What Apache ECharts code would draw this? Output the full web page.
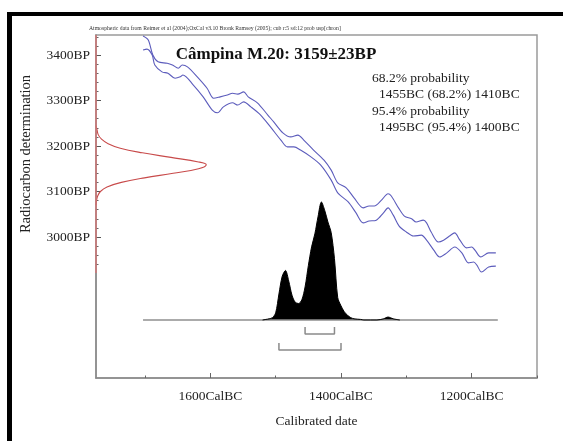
<!DOCTYPE html>
<html>
<head>
<meta charset="utf-8">
<script src="https://cdn.jsdelivr.net/npm/echarts@6/dist/echarts.min.js"></script>
<style>
  html, body { margin: 0; padding: 0; background: #fff; }
  #chart { width: 563px; height: 441px; }
</style>
</head>
<body>
<div id="chart"></div>
<script>
// calibration curve (cal BC, BP) - upper and lower 1 sigma lines
const curveUpper = [
  [1703, 3442], [1695, 3433], [1688, 3400], [1680, 3385], [1666, 3382], [1658, 3378],
  [1649, 3371], [1643, 3378], [1635, 3374], [1620, 3352], [1605, 3327], [1595, 3305],
  [1585, 3308], [1574, 3312], [1566, 3316], [1558, 3314], [1549, 3319], [1542, 3308],
  [1528, 3295], [1512, 3268], [1503, 3253], [1489, 3229], [1477, 3220], [1466, 3224],
  [1457, 3213], [1442, 3191], [1426, 3169], [1415, 3147], [1405, 3119], [1392, 3108],
  [1380, 3086], [1366, 3064], [1357, 3068], [1349, 3068], [1338, 3081], [1328, 3095],
  [1323, 3090], [1312, 3064], [1303, 3046], [1292, 3040], [1285, 3033], [1274, 3037],
  [1269, 3031], [1262, 3011], [1251, 2989], [1243, 2993], [1234, 3002], [1226, 3009],
  [1218, 2993], [1208, 2976], [1200, 2978], [1195, 2971], [1186, 2956], [1174, 2965],
  [1163, 2965]
];
const curveLower = [
  [1703, 3411], [1697, 3413], [1689, 3400], [1685, 3378], [1674, 3363], [1665, 3360],
  [1654, 3349], [1646, 3352], [1642, 3356], [1626, 3334], [1611, 3308], [1597, 3279],
  [1589, 3273], [1580, 3286], [1566, 3295], [1558, 3290], [1549, 3297], [1538, 3286],
  [1523, 3268], [1508, 3242], [1492, 3213], [1482, 3198], [1472, 3198], [1462, 3191],
  [1446, 3176], [1431, 3158], [1415, 3125], [1405, 3097], [1389, 3077], [1377, 3053],
  [1366, 3031], [1357, 3035], [1346, 3037], [1335, 3053], [1328, 3064], [1320, 3048],
  [1311, 3024], [1300, 3011], [1289, 3002], [1277, 3004], [1269, 2993], [1258, 2971],
  [1249, 2956], [1238, 2965], [1226, 2978], [1215, 2965], [1205, 2943], [1197, 2945],
  [1192, 2938], [1185, 2923], [1174, 2934], [1163, 2936]
];

// measured radiocarbon date 3159±23BP (relative probability)
const measBP   = [3245, 3235, 3225, 3215, 3205, 3195, 3185, 3175, 3165, 3159, 3150, 3140, 3130, 3120, 3110, 3100, 3090, 3080, 3070];
const measProb = [0.00, 0.01, 0.02, 0.05, 0.11, 0.22, 0.42, 0.68, 0.93, 1.00, 0.93, 0.70, 0.44, 0.23, 0.10, 0.04, 0.015, 0.005, 0.00];

// calibrated distribution (cal BC, relative probability)
const distBC   = [1520, 1515, 1510, 1505, 1500, 1495, 1490, 1485, 1480, 1475, 1470, 1465, 1460, 1455, 1450, 1445, 1440, 1435, 1430, 1425, 1420, 1415, 1410, 1405, 1400, 1395, 1390, 1385, 1380, 1370, 1365, 1345, 1335, 1328, 1320, 1310];
const distProb = [0.00, 0.005, 0.01, 0.02, 0.06, 0.22, 0.37, 0.42, 0.33, 0.21, 0.15, 0.14, 0.17, 0.28, 0.46, 0.62, 0.73, 0.88, 1.00, 0.93, 0.83, 0.74, 0.52, 0.19, 0.12, 0.07, 0.04, 0.02, 0.01, 0.005, 0.00, 0.00, 0.01, 0.025, 0.01, 0.00];

const distSpanBC = [1703, 1160];
const range68 = [1455, 1410];
const range95 = [1495, 1400];

const xMajor = [1200, 1400, 1600];
const xMinor = [1100, 1300, 1500, 1700];
const yMajor = [3000, 3100, 3200, 3300, 3400];
const yMinor = [2940, 2960, 2980, 3020, 3040, 3060, 3080, 3120, 3140, 3160, 3180, 3220, 3240, 3260, 3280, 3320, 3340, 3360, 3380, 3420, 3440];
const redAxisBP = [2921, 3444];

const probLines = [
  '68.2% probability',
  '1455BC (68.2%) 1410BC',
  '95.4% probability',
  '1495BC (95.4%) 1400BC'
];

const serif = '"Liberation Serif", "DejaVu Serif", serif';
const xMin = 1100, xMax = 1775;
const yMin = 2690, yMax = 3444;

function bracket(r, level, top) {
  return [[r[0], top], [r[0], level], [r[1], level], [r[1], top]];
}

const chart = echarts.init(document.getElementById('chart'));

const option = {
  animation: false,
  backgroundColor: '#fff',
  grid: {
    left: 96, right: 26, top: 35, bottom: 63,
    show: true, borderColor: '#9a9a9a', borderWidth: 1.5, backgroundColor: 'transparent'
  },
  xAxis: [
    {
      type: 'value', min: xMin, max: xMax, inverse: true,
      axisLine: { onZero: false, lineStyle: { color: '#8a8a8a', width: 1.5 } },
      axisTick: { inside: true, length: 5, customValues: xMajor, lineStyle: { color: '#666' } },
      axisLabel: {
        customValues: xMajor, margin: 11, color: '#222',
        fontFamily: serif, fontSize: 13.5,
        formatter: v => v + 'CalBC'
      },
      splitLine: { show: false },
      name: 'Calibrated date', nameLocation: 'middle', nameGap: 36,
      nameTextStyle: { fontFamily: serif, fontSize: 13.5, color: '#222' }
    },
    {
      type: 'value', min: xMin, max: xMax, inverse: true, position: 'bottom',
      axisLine: { show: false, onZero: false },
      axisTick: { inside: true, length: 2.5, customValues: xMinor, lineStyle: { color: '#666' } },
      axisLabel: { show: false },
      splitLine: { show: false }
    },
    {
      type: 'value', min: 0, max: 4, show: false, axisLine: { onZero: false }
    }
  ],
  yAxis: [
    {
      type: 'value', min: yMin, max: yMax,
      axisLine: { show: true, onZero: false, lineStyle: { color: '#8a8a8a', width: 1.5 } },
      axisTick: { inside: true, length: 5, customValues: yMajor, lineStyle: { color: '#555' } },
      axisLabel: {
        customValues: yMajor, margin: 6, color: '#222',
        fontFamily: serif, fontSize: 13.5,
        formatter: v => v + 'BP'
      },
      splitLine: { show: false }
    },
    {
      type: 'value', min: yMin, max: yMax, position: 'left',
      axisLine: { show: false, onZero: false },
      axisTick: { show: true, inside: true, length: 2.5, customValues: yMinor, lineStyle: { color: '#666' } },
      axisLabel: { show: false },
      splitLine: { show: false }
    },
    {
      type: 'value', min: -0.4915, max: 2.415, show: false, axisLine: { onZero: false }
    }
  ],
  series: [
    {
      type: 'line', xAxisIndex: 0, yAxisIndex: 0, symbol: 'none', silent: true,
      data: redAxisBP.map(bp => [xMax, bp]),
      lineStyle: { color: '#d07878', width: 1.5 }, z: 5
    },
    {
      type: 'line', xAxisIndex: 0, yAxisIndex: 0, symbol: 'none', smooth: 0.3,
      data: curveUpper,
      lineStyle: { color: '#5c5cbc', width: 1.1 }
    },
    {
      type: 'line', xAxisIndex: 0, yAxisIndex: 0, symbol: 'none', smooth: 0.3,
      data: curveLower,
      lineStyle: { color: '#5c5cbc', width: 1.1 }
    },
    {
      type: 'line', xAxisIndex: 2, yAxisIndex: 0, symbol: 'none', smooth: 0.4,
      data: measBP.map((bp, i) => [measProb[i], bp]),
      lineStyle: { color: '#c84a4a', width: 1.1 }
    },
    {
      type: 'line', xAxisIndex: 0, yAxisIndex: 2, symbol: 'none',
      data: distSpanBC.map(bc => [bc, 0]),
      lineStyle: { color: '#8f8f8f', width: 1.5 }
    },
    {
      type: 'line', xAxisIndex: 0, yAxisIndex: 2, symbol: 'none', smooth: 0.3,
      data: distBC.map((bc, i) => [bc, distProb[i]]),
      lineStyle: { color: '#000', width: 1 },
      areaStyle: { color: '#000', opacity: 1 }
    },
    {
      type: 'line', xAxisIndex: 0, yAxisIndex: 2, symbol: 'none',
      data: bracket(range68, -0.1186, -0.0593),
      lineStyle: { color: '#8a8a8a', width: 1.5 }
    },
    {
      type: 'line', xAxisIndex: 0, yAxisIndex: 2, symbol: 'none',
      data: bracket(range95, -0.254, -0.195),
      lineStyle: { color: '#8a8a8a', width: 1.5 }
    }
  ],
  graphic: [
    { type: 'rect', shape: { x: 7, y: 12, width: 556, height: 4 }, style: { fill: '#000' } },
    { type: 'rect', shape: { x: 7, y: 12, width: 5, height: 429 }, style: { fill: '#000' } },
    {
      type: 'text', x: 89, y: 29,
      style: {
        text: 'Atmospheric data from Reimer et al (2004);OxCal v3.10 Bronk Ramsey (2005); cub r:5 sd:12 prob usp[chron]',
        font: '5.7px ' + serif, fill: '#333', textVerticalAlign: 'middle', verticalAlign: 'middle'
      }
    },
    {
      type: 'text', x: 276, y: 55,
      style: {
        text: 'Câmpina M.20: 3159±23BP', font: 'bold 17px ' + serif, fill: '#111',
        textAlign: 'center', align: 'center', textVerticalAlign: 'middle', verticalAlign: 'middle'
      }
    },
    {
      type: 'text', x: 26, y: 154, rotation: Math.PI / 2,
      style: {
        text: 'Radiocarbon determination', font: '14.5px ' + serif, fill: '#222',
        textAlign: 'center', align: 'center', textVerticalAlign: 'middle', verticalAlign: 'middle'
      }
    }
  ].concat(probLines.map((t, i) => ({
    type: 'text', x: i % 2 === 0 ? 372 : 379, y: 78 + i * 16.5,
    style: {
      text: t, font: '13.5px ' + serif, fill: '#222',
      textVerticalAlign: 'middle', verticalAlign: 'middle'
    }
  })))
};

chart.setOption(option);
</script>
</body>
</html>
